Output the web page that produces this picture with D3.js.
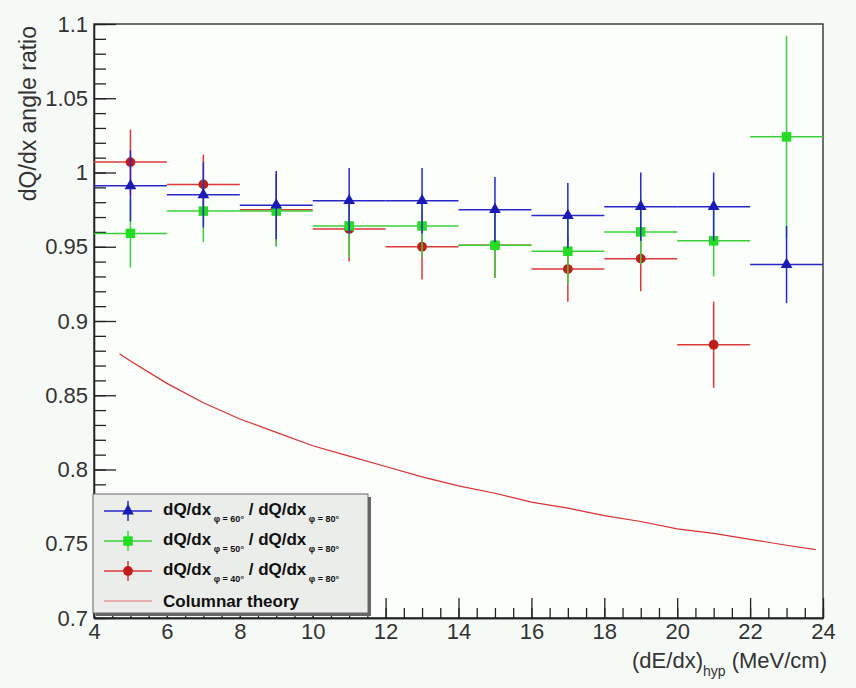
<!DOCTYPE html>
<meta charset="utf-8">
<style>
body { margin: 0; background: #f6faf6; }
svg { font-family: "Liberation Sans", Arial, sans-serif; }
.axis text { font-size: 22px; fill: #333; }
.axis path, .axis line { stroke: #222; stroke-width: 1.3; }
</style>
<svg width="856" height="688"></svg>
<script src="https://d3js.org/d3.v7.min.js"></script>
<script>

// bin centres (bin width 2 MeV/cm)
var bins = [5, 7, 9, 11, 13, 15, 17, 19, 21, 23];

// dQ/dx(60) / dQ/dx(80)
var blueVal = [0.991, 0.985, 0.978, 0.981, 0.981, 0.975, 0.971, 0.977, 0.977, 0.938];
var blueErr = [0.024, 0.022, 0.023, 0.022, 0.022, 0.022, 0.022, 0.023, 0.023, 0.026];

// dQ/dx(50) / dQ/dx(80)
var greenVal = [0.959, 0.974, 0.974, 0.964, 0.964, 0.951, 0.947, 0.960, 0.954, 1.024];
var greenErr = [0.023, 0.021, 0.024, 0.021, 0.021, 0.022, 0.022, 0.022, 0.024, 0.068];

// dQ/dx(40) / dQ/dx(80), no point in the last bin
var redVal = [1.007, 0.992, 0.975, 0.962, 0.950, 0.951, 0.935, 0.942, 0.884, null];
var redErr = [0.022, 0.020, 0.024, 0.022, 0.022, 0.022, 0.022, 0.022, 0.029, null];

// columnar recombination theory
var theoryX = [4.7, 5, 6, 7, 8, 9, 10, 11, 12, 13, 14, 15, 16, 17, 18, 19, 20, 21, 22, 23, 23.8];
var theoryY = [0.878, 0.873, 0.858, 0.845, 0.834, 0.825, 0.816, 0.809, 0.802, 0.795, 0.789,
               0.784, 0.778, 0.774, 0.769, 0.765, 0.760, 0.757, 0.753, 0.749, 0.746];

var xTicks = [4, 6, 8, 10, 12, 14, 16, 18, 20, 22, 24];
var yTicks = [0.7, 0.75, 0.8, 0.85, 0.9, 0.95, 1, 1.05, 1.1];

var svg = d3.select("svg");

var x = d3.scaleLinear().domain([4, 24]).range([94, 823]);
var y = d3.scaleLinear().domain([0.7, 1.1]).range([618, 24]);

// plot frame
svg.append("rect")
  .attr("x", x(4)).attr("y", y(1.1))
  .attr("width", x(24) - x(4)).attr("height", y(0.7) - y(1.1))
  .attr("fill", "#fafdfa")
  .attr("stroke", "#222")
  .attr("stroke-width", 1.3);

// minor ticks
svg.append("g")
  .attr("class", "axis")
  .attr("transform", "translate(" + x(4) + ",0)")
  .call(d3.axisLeft(y).tickValues(d3.range(70, 111).map(function(d) { return d / 100; }))
    .tickSizeInner(-12).tickSizeOuter(0).tickFormat(""));

svg.append("g")
  .attr("class", "axis")
  .attr("transform", "translate(0," + y(0.7) + ")")
  .call(d3.axisBottom(x).tickValues(d3.range(8, 49).map(function(d) { return d / 2; }))
    .tickSizeInner(-10).tickSizeOuter(0).tickFormat(""));

// major ticks
svg.append("g")
  .attr("class", "axis")
  .attr("transform", "translate(" + x(4) + ",0)")
  .call(d3.axisLeft(y).tickValues(yTicks)
    .tickSizeInner(-22).tickSizeOuter(0).tickPadding(6)
    .tickFormat(function(d) { return +d.toFixed(2); }));

svg.append("g")
  .attr("class", "axis")
  .attr("transform", "translate(0," + y(0.7) + ")")
  .call(d3.axisBottom(x).tickValues(xTicks)
    .tickSizeInner(-20).tickSizeOuter(0).tickPadding(5));

// axis titles
svg.append("text")
  .attr("transform", "translate(36,26) rotate(-90)")
  .attr("text-anchor", "end")
  .attr("font-size", 23)
  .attr("fill", "#333")
  .text("dQ/dx angle ratio");

var xt = svg.append("text")
  .attr("x", 827).attr("y", 668)
  .attr("text-anchor", "end")
  .attr("font-size", 22)
  .attr("fill", "#333");
xt.append("tspan").text("(dE/dx)");
xt.append("tspan").attr("font-size", 14).attr("dy", 8).text("hyp");
xt.append("tspan").attr("dy", -8).text(" (MeV/cm)");

// theory curve
var theory = theoryX.map(function(d, i) { return [d, theoryY[i]]; });
svg.append("path")
  .datum(theory)
  .attr("fill", "none")
  .attr("stroke", "#d83030")
  .attr("stroke-width", 1.2)
  .attr("d", d3.line().x(function(d) { return x(d[0]); }).y(function(d) { return y(d[1]); }));

var series = [
  { vals: blueVal, errs: blueErr, line: "#2828c8", fill: "#1a1ab4", shape: d3.symbolTriangle, size: 60 },
  { vals: greenVal, errs: greenErr, line: "#3ad03a", fill: "#22dd22", shape: d3.symbolSquare, size: 90 },
  { vals: redVal, errs: redErr, line: "#dc3a3a", fill: "#c01c1c", shape: d3.symbolCircle, size: 75 }
];

// drawn in reverse legend order: red underneath, blue on top
series.slice().reverse().forEach(function(s) {
  var pts = bins.map(function(b, i) { return { x: b, v: s.vals[i], e: s.errs[i] }; })
    .filter(function(d) { return d.v != null; });
  var g = svg.append("g");
  g.selectAll(".h").data(pts).enter().append("line")
    .attr("x1", function(d) { return x(d.x - 1); })
    .attr("x2", function(d) { return x(d.x + 1); })
    .attr("y1", function(d) { return y(d.v); })
    .attr("y2", function(d) { return y(d.v); })
    .attr("stroke", s.line).attr("stroke-width", 1.5);
  g.selectAll(".v").data(pts).enter().append("line")
    .attr("x1", function(d) { return x(d.x); })
    .attr("x2", function(d) { return x(d.x); })
    .attr("y1", function(d) { return y(d.v - d.e); })
    .attr("y2", function(d) { return y(d.v + d.e); })
    .attr("stroke", s.line).attr("stroke-width", 1.5);
  g.selectAll("path").data(pts).enter().append("path")
    .attr("transform", function(d) { return "translate(" + x(d.x) + "," + y(d.v) + ")"; })
    .attr("d", d3.symbol().type(s.shape).size(s.size))
    .attr("fill", s.fill);
});

// legend
var leg = svg.append("g");
leg.append("rect")
  .attr("x", 96).attr("y", 497).attr("width", 275).attr("height", 119)
  .attr("fill", "#666");
leg.append("rect")
  .attr("x", 93).attr("y", 494).attr("width", 275).attr("height", 119)
  .attr("fill", "#ebedeb")
  .attr("stroke", "#666").attr("stroke-width", 1);

var legNames = [["60°", "80°"], ["50°", "80°"], ["40°", "80°"]];
series.forEach(function(s, i) {
  var ly = 511 + i * 30;
  leg.append("line").attr("x1", 104).attr("x2", 152).attr("y1", ly).attr("y2", ly)
    .attr("stroke", s.line).attr("stroke-width", 1.5);
  leg.append("line").attr("x1", 128).attr("x2", 128).attr("y1", ly - 10).attr("y2", ly + 10)
    .attr("stroke", s.line).attr("stroke-width", 1.5);
  leg.append("path").attr("transform", "translate(128," + ly + ")")
    .attr("d", d3.symbol().type(s.shape).size(s.size)).attr("fill", s.fill);
  var t = leg.append("text").attr("x", 163).attr("y", ly + 4)
    .attr("font-size", 17).attr("font-weight", "bold").attr("fill", "#111");
  t.append("tspan").text("dQ/dx");
  t.append("tspan").attr("font-size", 9).attr("dy", 7).text(" φ = " + legNames[i][0]);
  t.append("tspan").attr("dy", -7).text(" / dQ/dx");
  t.append("tspan").attr("font-size", 9).attr("dy", 7).text(" φ = " + legNames[i][1]);
});
leg.append("line").attr("x1", 104).attr("x2", 152).attr("y1", 601).attr("y2", 601)
  .attr("stroke", "#e07070").attr("stroke-width", 1.2);
leg.append("text").attr("x", 163).attr("y", 607)
  .attr("font-size", 17).attr("font-weight", "bold").attr("fill", "#111")
  .text("Columnar theory");

</script>
